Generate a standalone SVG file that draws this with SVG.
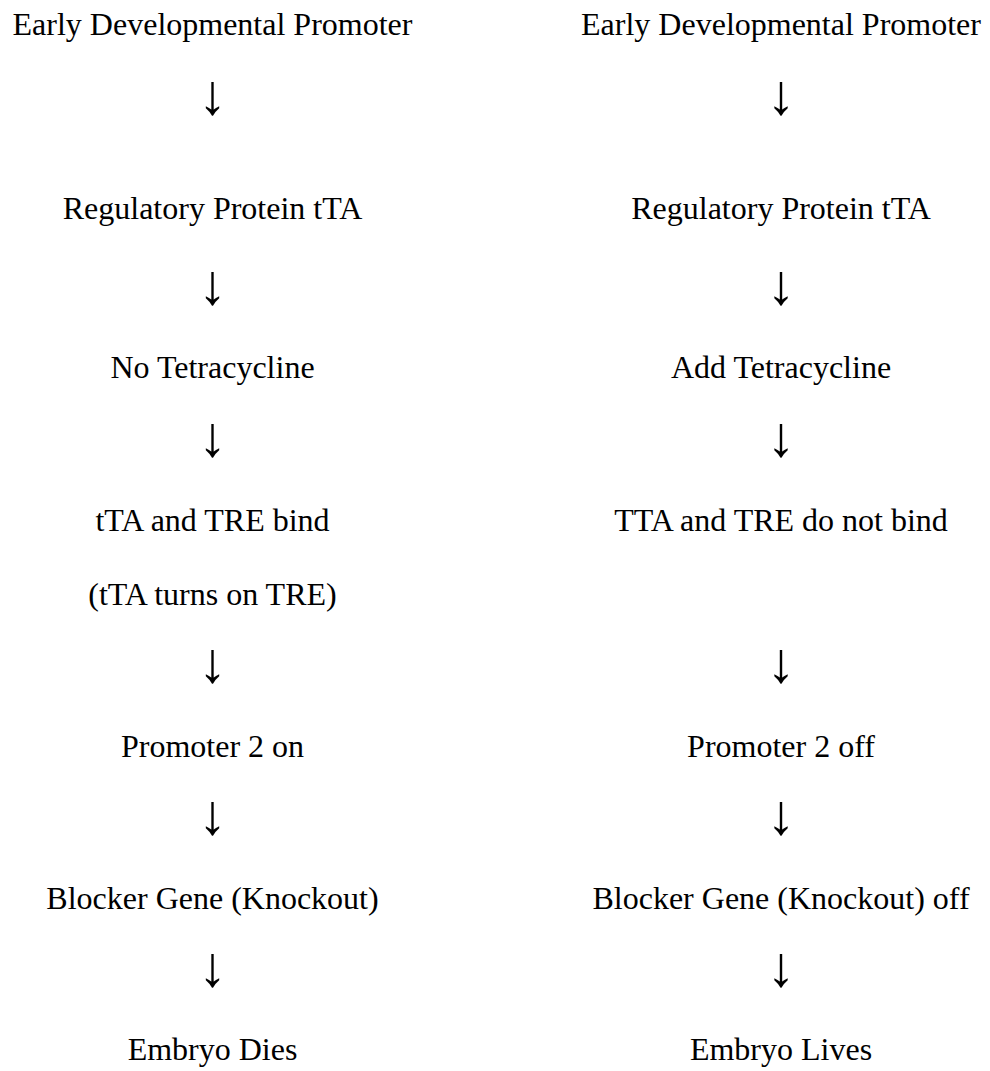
<svg xmlns="http://www.w3.org/2000/svg" width="990" height="1071" viewBox="0 0 990 1071">
<style>
text{font-family:"Liberation Serif","Times New Roman",serif;font-size:32px;fill:#000;text-anchor:middle}
#connectors text{font-size:57px}
</style>
<rect width="990" height="1071" fill="#fff"/>
<g id="left">
<g id="l1"><text x="212.5" y="35">Early Developmental Promoter</text></g>
<g id="l2"><text x="212.5" y="219">Regulatory Protein tTA</text></g>
<g id="l3"><text x="212.5" y="378">No Tetracycline</text></g>
<g id="l4"><text x="212.5" y="531">tTA and TRE bind</text><text x="212.5" y="605">(tTA turns on TRE)</text></g>
<g id="l5"><text x="212.5" y="757">Promoter 2 on</text></g>
<g id="l6"><text x="212.5" y="909">Blocker Gene (Knockout)</text></g>
<g id="l7"><text x="212.5" y="1060">Embryo Dies</text></g>
</g>
<g id="right">
<g id="r1"><text x="781" y="35">Early Developmental Promoter</text></g>
<g id="r2"><text x="781" y="219">Regulatory Protein tTA</text></g>
<g id="r3"><text x="781" y="378">Add Tetracycline</text></g>
<g id="r4"><text x="781" y="531">TTA and TRE do not bind</text></g>
<g id="r5"><text x="781" y="757">Promoter 2 off</text></g>
<g id="r6"><text x="781" y="909">Blocker Gene (Knockout) off</text></g>
<g id="r7"><text x="781" y="1060">Embryo Lives</text></g>
</g>
<g id="connectors">
<text x="212.5" y="114">↓</text><text x="781" y="114">↓</text>
<text x="212.5" y="304">↓</text><text x="781" y="304">↓</text>
<text x="212.5" y="456">↓</text><text x="781" y="456">↓</text>
<text x="212.5" y="682">↓</text><text x="781" y="682">↓</text>
<text x="212.5" y="834">↓</text><text x="781" y="834">↓</text>
<text x="212.5" y="986">↓</text><text x="781" y="986">↓</text>
</g>
</svg>
